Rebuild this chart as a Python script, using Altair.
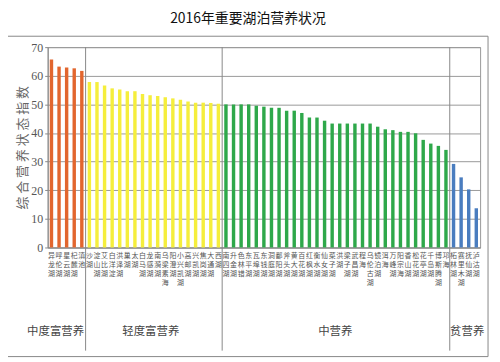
import altair as alt
import pandas as pd

# ---------------- data ----------------
group_names = ["中度富营养", "轻度富营养", "中营养", "贫营养"]
group_colors = ["#E2662E", "#F5EE3C", "#2EA84A", "#4A7DBF"]

orange_lakes = ["异龙湖", "呼伦湖", "星云湖", "杞麓湖", "滇池"]
orange_vals = [65.7, 63.2, 62.9, 62.6, 61.7]

yellow_lakes = ["沙湖", "淀山湖", "艾比湖", "白洋淀", "洪泽湖", "巢湖", "太湖", "白马湖",
                "龙感湖", "南漪湖", "乌梁素海", "阳澄湖", "小兴凯湖", "高邮湖", "兴凯湖",
                "焦岗湖", "大通湖", "西湖"]
yellow_vals = [57.8, 57.8, 56.6, 55.6, 55.2, 54.6, 54.6, 53.6, 53.2, 52.9, 52.5, 52.1,
               51.6, 51.0, 50.6, 50.6, 50.5, 50.2]

green_lakes = ["南四湖", "升金湖", "色林错", "东平湖", "瓦埠湖", "东钱湖", "洞庭湖", "鄱阳湖",
               "斧头湖", "黄大湖", "百花湖", "红枫湖", "衡水湖", "仙女湖", "菜子湖", "洪湖",
               "梁子湖", "武昌湖", "程海", "乌伦古湖", "镜泊湖", "洱海", "万峰湖", "阳宗海",
               "香山湖", "松花湖", "花亭湖", "千岛湖", "博斯腾湖", "邛海"]
green_vals = [50.0, 50.0, 50.0, 50.0, 49.5, 49.2, 48.8, 48.8, 47.8, 47.8, 47.0, 45.4,
              45.4, 44.3, 43.3, 43.3, 43.3, 43.3, 43.3, 43.3, 42.2, 41.3, 41.0, 40.4,
              40.4, 39.9, 37.6, 36.3, 35.5, 34.1]

blue_lakes = ["柘林湖", "赛里木湖", "抚仙湖", "泸沽湖"]
blue_vals = [29.2, 24.5, 20.3, 13.7]

y_ticks = [0, 10, 20, 30, 40, 50, 60, 70]

lakes = orange_lakes + yellow_lakes + green_lakes + blue_lakes
values = orange_vals + yellow_vals + green_vals + blue_vals
groups = ([group_names[0]] * len(orange_lakes) + [group_names[1]] * len(yellow_lakes)
          + [group_names[2]] * len(green_lakes) + [group_names[3]] * len(blue_lakes))

df = pd.DataFrame({"lake": lakes, "value": values, "group": groups})
div_df = pd.DataFrame({"lake": [yellow_lakes[0], green_lakes[0], blue_lakes[0]]})
one = pd.DataFrame({"k": [0]})

CJK = "Noto Sans CJK SC"
W, H = 436, 202

x_scale = alt.Scale(domain=lakes, paddingInner=0, paddingOuter=0)
x_axis = alt.Axis(title=None, labelAngle=0, labelExpr="split(datum.label, '')",
                  labelFontSize=7, labelLineHeight=9, labelBaseline="top",
                  labelAlign="center", labelPadding=4, ticks=False,
                  labelOverlap=False, labelColor="#555", labelFont=CJK,
                  domainColor="#888")

bars = alt.Chart(df).mark_bar(width=alt.RelativeBandSize(0.45)).encode(
    x=alt.X("lake:N", sort=None, scale=x_scale, axis=x_axis),
    y=alt.Y("value:Q", scale=alt.Scale(domain=[0, 70], nice=False),
            axis=alt.Axis(values=y_ticks, title="综 合 营 养 状 态 指 数",
                          titleFont=CJK, titleFontSize=13, titleFontWeight="normal",
                          titleColor="#666", titleX=-25, titleY=H / 2,
                          titleBaseline="middle", titleAngle=270,
                          labelFont="Liberation Serif", labelFontSize=12,
                          labelColor="#555", labelPadding=2, tickSize=3,
                          tickColor="#888", domainColor="#888",
                          gridColor="#999", gridWidth=1)),
    color=alt.Color("group:N", scale=alt.Scale(domain=group_names, range=group_colors),
                    legend=None),
)

rules = alt.Chart(div_df).mark_rule(color="#888", strokeWidth=1).encode(
    x=alt.X("lake:N", sort=None, scale=x_scale, bandPosition=0, axis=x_axis),
    y=alt.value(0),
    y2=alt.value(306),
)

box = alt.Chart(one).mark_rect(fillOpacity=0, stroke="#888", strokeWidth=1).encode(
    x=alt.value(-41), x2=alt.value(444), y=alt.value(-11), y2=alt.value(312)
)

title = alt.Chart(one).mark_text(
    text="2016年重要湖泊营养状况", font=CJK, fontSize=14, color="#111",
    align="center", baseline="middle"
).encode(x=alt.value(202), y=alt.value(-28))

label_x = [8, 104, 290, 423]
label_layers = [
    alt.Chart(one).mark_text(text=name, font=CJK, fontSize=11.5, color="#444",
                             align="center", baseline="middle")
    .encode(x=alt.value(px), y=alt.value(287))
    for name, px in zip(group_names, label_x)
]

chart = alt.layer(box, title, bars, rules, *label_layers).properties(
    width=W, height=H,
    autosize=alt.AutoSizeParams(type="none"),
    padding={"left": 40, "top": 38, "right": 12, "bottom": 114},
).configure_view(stroke="#999")

chart.save("out.html", embed_options={"renderer": "svg", "actions": False})
